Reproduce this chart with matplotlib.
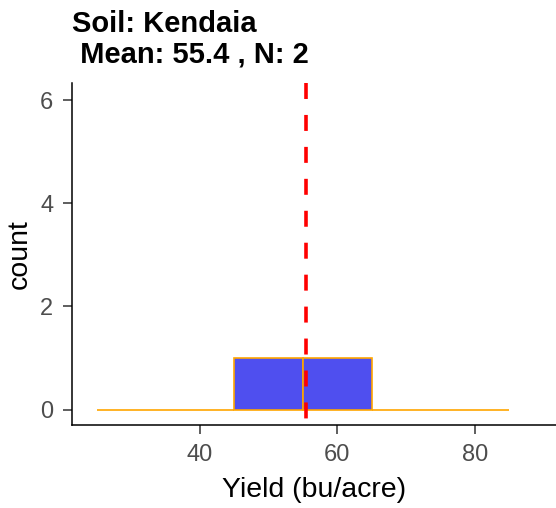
import matplotlib
matplotlib.use('Agg')
from matplotlib import pyplot as plt
import numpy as np

# histogram of yield for one soil type
soil = 'Kendaia'
bin_edges = [25, 35, 45, 55, 65, 75, 85]
counts = [0, 0, 1, 1, 0, 0]
mean_yield = 55.4
n_obs = 2

x_ticks = [40, 60, 80]
y_ticks = [0, 2, 4, 6]

plt.rcParams['font.family'] = ['Liberation Sans', 'DejaVu Sans']
plt.rcParams['lines.scale_dashes'] = False

fig = plt.figure(figsize=(5.56, 5.08), dpi=100)
ax = fig.add_axes([72 / 556, 1 - 425 / 508, 1 - 72 / 556, (425 - 83) / 508])

edges = np.array(bin_edges)
centers = (edges[:-1] + edges[1:]) / 2
widths = np.diff(edges)
ax.bar(centers, counts, width=widths, color='#4F4FEF', edgecolor='#FFA500',
       linewidth=1.2, zorder=2)

# drawn top-down so the dash pattern starts at the top like the original
ax.axvline(mean_yield, ymin=1, ymax=0, color='red', linewidth=2.6,
           dashes=(11.5, 11.5), zorder=3)

ax.set_xlim(21.4, 91.8)
ax.set_ylim(-0.3, 6.33)
ax.set_xticks(x_ticks)
ax.set_yticks(y_ticks)

for side in ['top', 'right']:
    ax.spines[side].set_visible(False)
for side in ['left', 'bottom']:
    ax.spines[side].set_linewidth(1.1)
    ax.spines[side].set_color('black')

ax.tick_params(length=6.5, width=1.1, color='#333333', labelcolor='#4D4D4D',
               labelsize=17)
ax.tick_params(axis='x', pad=7)
ax.tick_params(axis='y', pad=7)

ax.set_xlabel('Yield (bu/acre)', fontsize=20.5, labelpad=8)
ax.set_ylabel('count', fontsize=20.5, labelpad=5.5)

ax.set_title('Soil: %s\n Mean: %s , N: %d' % (soil, mean_yield, n_obs),
             loc='left', fontsize=21, fontweight='bold', pad=15,
             linespacing=1.12)

fig.savefig('out.png', dpi=100)
